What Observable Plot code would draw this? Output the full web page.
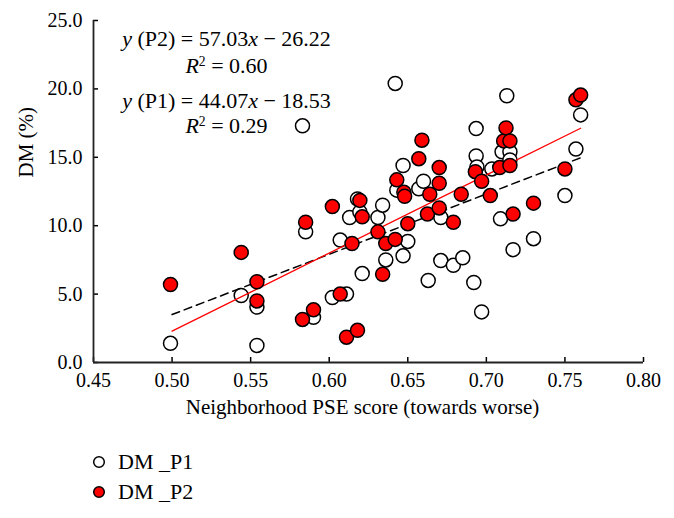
<!DOCTYPE html>
<html><head><meta charset="utf-8">
<script src="https://cdn.jsdelivr.net/npm/d3@7"></script>
<script src="https://cdn.jsdelivr.net/npm/@observablehq/plot@0.6"></script>
<style>
body{margin:0;background:#fff;font-family:"Liberation Serif","Times New Roman","DejaVu Serif",serif;}
#legend{position:relative;height:88px;font-family:"Liberation Serif","Times New Roman","DejaVu Serif",serif;font-size:22px;color:#000;}
.row{position:absolute;left:92px;display:flex;align-items:center;height:26px;}
.row svg{margin-right:12px;}
svg text{font-family:"Liberation Serif","Times New Roman","DejaVu Serif",serif;}
</style></head><body>
<div id="chart"></div>
<div id="legend"></div>
<script>
// DM_P1 (open circles)
const p1X = [0.499,0.544,0.554,0.554,0.583,0.585,0.590,0.602,0.607,0.611,0.613,0.618,0.6195,0.621,0.631,0.634,0.636,0.642,0.643,0.647,0.647,0.650,0.657,0.660,0.663,0.671,0.671,0.679,0.685,0.692,0.6935,0.6935,0.694,0.697,0.7035,0.709,0.710,0.713,0.715,0.715,0.717,0.730,0.750,0.757,0.760];
const p1Y = [1.4,4.9,4.05,1.25,17.3,9.55,3.3,4.75,8.95,5.0,10.6,11.95,11.0,6.5,10.6,11.5,7.5,20.4,12.6,14.4,7.8,8.85,12.7,13.25,6.0,10.6,7.45,7.1,7.65,5.85,17.1,15.1,14.3,3.7,14.15,10.5,15.4,19.5,15.4,14.8,8.25,9.05,12.2,15.6,18.1];
// DM_P2 (red circles)
const p2X = [0.499,0.544,0.554,0.554,0.583,0.585,0.590,0.602,0.607,0.611,0.6145,0.618,0.6195,0.621,0.631,0.634,0.636,0.642,0.643,0.6475,0.648,0.650,0.657,0.659,0.6625,0.664,0.670,0.670,0.670,0.679,0.684,0.693,0.697,0.7025,0.7085,0.711,0.7125,0.715,0.715,0.717,0.730,0.750,0.757,0.760];
const p2Y = [5.7,8.05,5.9,4.5,3.15,10.25,3.85,11.4,5.0,1.85,8.7,2.35,11.85,10.65,9.55,6.45,8.7,9.0,13.35,12.45,12.15,10.15,14.9,16.25,10.85,12.3,14.25,13.1,11.3,10.25,12.3,13.95,13.25,12.2,14.25,16.2,17.15,16.2,14.4,10.85,11.65,14.15,19.2,19.55];
// regression fits as printed on the chart
const fitNames = ["P2","P1"];
const fitSlopes = [57.03,44.07];
const fitIntercepts = [-26.22,-18.53];
const fitR2 = [0.60,0.29];
const fitRange = [0.50,0.76];
const xTicks = [0.45,0.50,0.55,0.60,0.65,0.70,0.75,0.80];
const yTicks = [0,5,10,15,20,25];
const seriesNames = ["DM _P1","DM _P2"];

const pts1 = p1X.map((x,i)=>({x, y:p1Y[i]}));
const pts2 = p2X.map((x,i)=>({x, y:p2Y[i]}));
const fitLine = k => fitRange.map(x=>({x, y: fitSlopes[k]*x + fitIntercepts[k]}));
const fmt2 = v => v.toFixed(2);
const eqText = k => `y (${fitNames[k]}) = ${fmt2(fitSlopes[k])}x \u2212 ${fmt2(Math.abs(fitIntercepts[k]))}`;
const r2Text = k => `R2 = ${fmt2(fitR2[k])}`;
const annLines = [eqText(0), r2Text(0), eqText(1), r2Text(1)];
const annDy = [18,45,80,105];

const FONT = "'Liberation Serif', 'Times New Roman', 'DejaVu Serif', serif";
const W = 674, H = 430;
const plot = Plot.plot({
  width: W, height: H,
  marginLeft: 93, marginRight: 31, marginTop: 20, marginBottom: H-362,
  style: {fontFamily: FONT, fontSize: "20px", color: "#000", background: "#fff"},
  x: {domain: [0.45,0.80]},
  y: {domain: [0,25]},
  marks: [
    Plot.axisX({ticks: xTicks, tickFormat: d3.format(".2f"), tickSize: -5, tickPadding: 15, label: null, strokeWidth: 1.5, fontSize: 20}),
    Plot.axisY({ticks: yTicks, tickFormat: d3.format(".1f"), tickSize: -5, tickPadding: 16, label: null, strokeWidth: 1.5, fontSize: 20}),
    Plot.ruleY([0], {stroke: "#222", strokeWidth: 1.8}),
    Plot.ruleX([0.45], {stroke: "#222", strokeWidth: 1.8}),
    Plot.dot(pts1, {x: "x", y: "y", r: 7, fill: "#fff", stroke: "#000", strokeWidth: 1.5}),
    Plot.line(fitLine(1), {x: "x", y: "y", stroke: "#000", strokeWidth: 1.5, strokeDasharray: "8,5"}),
    Plot.line(fitLine(0), {x: "x", y: "y", stroke: "#f00", strokeWidth: 1.3}),
    Plot.dot(pts2, {x: "x", y: "y", r: 7, fill: "#f00", stroke: "#000", strokeWidth: 1.5}),
    ...annLines.map((t,i)=>Plot.text([t], {frameAnchor: "top-left", dx: 133, dy: annDy[i], text: d=>d, textAnchor: "middle", lineAnchor: "middle", fontSize: 22, fill: "#000"})),
    Plot.text(["DM (%)"], {frameAnchor: "left", rotate: -90, dx: -67, dy: -14, text: d=>d, lineAnchor: "middle", fontSize: 21, fill: "#000"}),
    Plot.text(["Neighborhood PSE score (towards worse)"], {frameAnchor: "bottom", dx: -6, dy: 45, text: d=>d, lineAnchor: "middle", fontSize: 21, fill: "#000"})
  ]
});
document.getElementById("chart").appendChild(plot);

// italic variables and superscript in the equations
d3.select(plot).selectAll("text").each(function(){
  const s = this.textContent;
  let segs = null;
  if (s.startsWith("y (")) {
    const m = s.match(/^y( \(.*\) = [\d.]+)x( .*)$/);
    if (m) segs = [{t:"y",i:1},{t:m[1]},{t:"x",i:1},{t:m[2]}];
  } else if (s.startsWith("R2 = ")) {
    segs = [{t:"R",i:1},{t:"2",sup:1},{t:s.slice(2)}];
  }
  if (!segs) return;
  const el = d3.select(this);
  el.text(null);
  let shifted = false;
  for (const g of segs) {
    const ts = el.append("tspan").text(g.t);
    if (g.i) ts.attr("font-style","italic");
    if (g.sup) { ts.attr("font-size","0.62em").attr("dy","-0.5em"); shifted = true; }
    else if (shifted) { ts.attr("dy","0.31em"); shifted = false; }
  }
});

// legend
const leg = d3.select("#legend");
[{fill:"#fff"},{fill:"#f00"}].forEach((o,i)=>{
  const row = leg.append("div").attr("class","row").style("top", (19 + i*30) + "px");
  const sv = row.append("svg").attr("width",14).attr("height",14);
  sv.append("circle").attr("cx",7).attr("cy",7).attr("r",5.3).attr("fill",o.fill).attr("stroke","#000").attr("stroke-width",1.5);
  row.append("span").text(seriesNames[i]);
});
</script>
</body></html>
